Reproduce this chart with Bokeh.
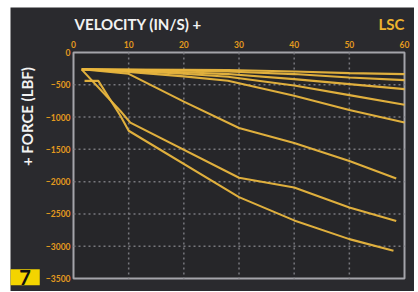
from bokeh.plotting import figure
from bokeh.models import Label, FixedTicker, Range1d, LinearAxis
from bokeh.embed import file_html
from bokeh.resources import INLINE

# ---- data (velocity in/s, force lbf) ----
x_ticks = [0, 10, 20, 30, 40, 50, 60]
y_ticks = [0, -500, -1000, -1500, -2000, -2500, -3000, -3500]

vel_a = [1.5, 10, 20, 28, 40, 50, 60]
force_1 = [-260, -262, -266, -272, -293, -319, -335]
force_2 = [-260, -268, -280, -294, -334, -387, -427]
force_3 = [-260, -275, -305, -334, -412, -490, -567]
force_4 = [-260, -285, -330, -376, -510, -660, -810]
force_5 = [-260, -300, -370, -438, -670, -890, -1084]

vel_6 = [1.5, 10, 20, 30, 40, 50, 58.5]
force_6 = [-260, -330, -760, -1170, -1400, -1680, -1950]

vel_7 = [1.5, 8.5, 10.3, 30, 40, 50, 58.5]
force_7 = [-265, -905, -1085, -1940, -2090, -2400, -2610]

vel_8 = [2, 4.5, 8.5, 10, 30, 40, 50, 58]
force_8 = [-440, -440, -980, -1212, -2240, -2600, -2890, -3070]

series = [
    (vel_a, force_1), (vel_a, force_2), (vel_a, force_3), (vel_a, force_4),
    (vel_a, force_5), (vel_6, force_6), (vel_7, force_7), (vel_8, force_8),
]

BG = "#2A2A2E"
LINE = "#E9B63E"
TICK = "#E39A1E"
FONT = "Lato"

x0, x1 = x_ticks[0], x_ticks[-1]
y0, y1 = y_ticks[0], y_ticks[-1]

# the frame covers the whole canvas; the chart box sits inside it
p = figure(width=404, height=284, output_backend="svg", toolbar_location=None,
           x_range=Range1d(-11.42, 61.81), y_range=Range1d(-3701, 697),
           x_axis_type=None, y_axis_type=None, min_border=0)
p.margin = (7, 3, 0, 10)
p.border_fill_color = BG
p.background_fill_color = BG
p.outline_line_color = None
p.grid.visible = False

# chart box
p.quad(left=x0, right=x1, top=y0, bottom=y1, fill_color="#262629",
       line_color="#A4A4AA", line_width=2)

# grid
gx = x_ticks[1:-1]
gy = y_ticks[1:-1]
p.segment(x0=gx, y0=[y0] * len(gx), x1=gx, y1=[y1] * len(gx),
          line_color="#77777D", line_dash="2 3", line_width=1.5)
p.segment(x0=[x0] * len(gy), y0=gy, x1=[x1] * len(gy), y1=gy,
          line_color="#77777D", line_dash="2 3", line_width=1.5)

# curves
for xs, ys in series:
    p.line(xs, ys, line_color=LINE, line_width=2.1, line_alpha=0.95)

# axes pinned to the chart box edges
xaxis = LinearAxis(fixed_location=y0, ticker=FixedTicker(ticks=x_ticks))
yaxis = LinearAxis(fixed_location=x0, ticker=FixedTicker(ticks=y_ticks))
for ax in (xaxis, yaxis):
    ax.axis_line_color = None
    ax.major_tick_line_color = None
    ax.minor_tick_line_color = None
    ax.major_tick_out = 0
    ax.major_tick_in = 0
    ax.major_label_text_color = TICK
    ax.major_label_text_font = FONT
    ax.major_label_text_font_style = "bold"
    ax.major_label_text_font_size = "8.5px"
xaxis.major_label_standoff = 5
yaxis.major_label_standoff = 3
p.add_layout(xaxis, "above")
p.add_layout(yaxis, "left")

# texts
p.add_layout(Label(x=0.2, y=449, text="VELOCITY (IN/S) +", text_color="#F2F2F2",
                   text_font=FONT, text_font_style="bold", text_font_size="15px",
                   text_baseline="middle", text_align="left"))
p.add_layout(Label(x=60, y=449, text="LSC", text_color="#EDB22E",
                   text_font=FONT, text_font_style="bold", text_font_size="15px",
                   text_baseline="middle", text_align="right"))
p.add_layout(Label(x=-8.5, y=-991, text="+ FORCE (LBF)", text_color="#F2F2F2",
                   text_font=FONT, text_font_style="bold", text_font_size="15px",
                   text_baseline="middle", text_align="center",
                   angle=90, angle_units="deg"))
p.add_layout(Label(x=-8.8, y=-3480, text="7", text_color="#111111",
                   text_font=FONT, text_font_style="bold", text_font_size="20px",
                   text_baseline="middle", text_align="center",
                   background_fill_color="#F3D400",
                   padding=dict(left=9, right=9, top=1, bottom=0)))

open("out.html", "w").write(file_html(p, INLINE))
